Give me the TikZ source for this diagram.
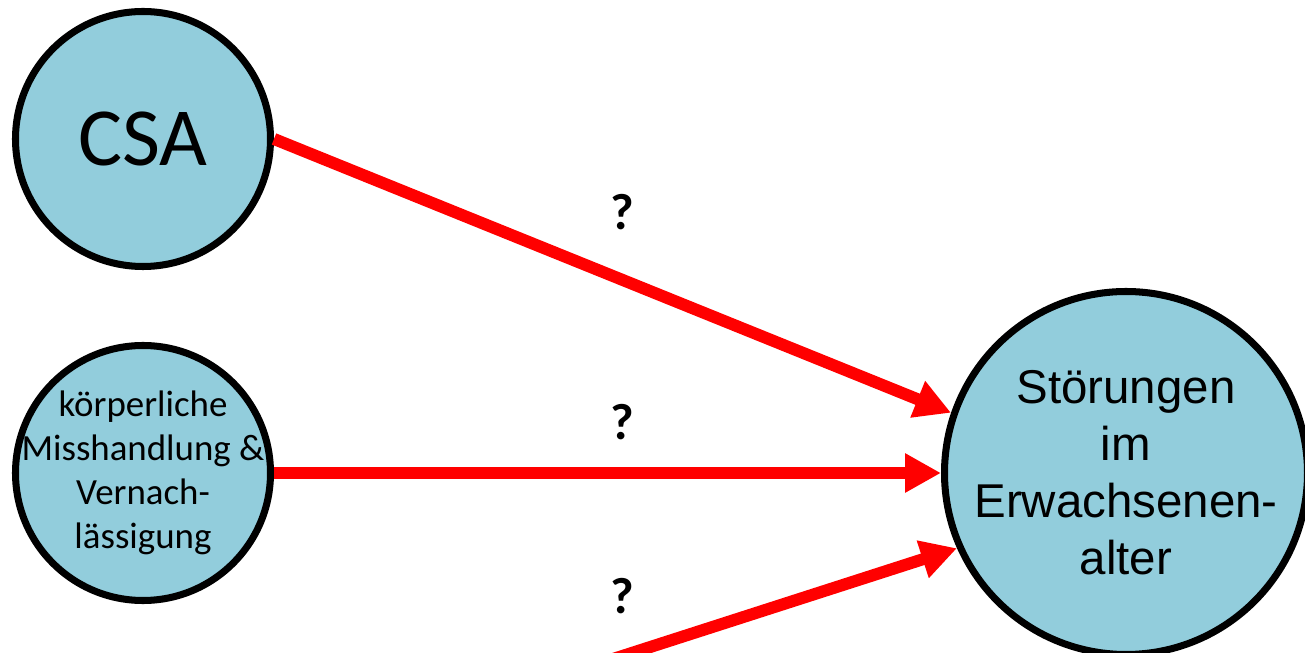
\documentclass[tikz,border=0pt]{standalone}
\usepackage{fontspec}
\setmainfont{Carlito}
\newfontfamily\arialfont{Liberation Sans}
\usepackage{xcolor}
\usetikzlibrary{arrows.meta, positioning, calc}

\definecolor{circfill}{HTML}{92CDDC}

\begin{document}
\begin{tikzpicture}[
    bubble/.style={circle, draw=black, line width=4pt, fill=circfill, inner sep=-0.6cm, align=center},
    arrow/.style={-{Triangle[length=7.2mm, width=7.4mm]}, line width=0.24cm, red},
    qmark/.style={font=\bfseries\fontsize{29}{34}\selectfont}
]
\useasboundingbox (0,0) rectangle (26.1,-13.06);
\clip (0,0) rectangle (26.1,-13.06);

% Left column: the two sources
\node[bubble, minimum size=5.1cm, font=\fontsize{47}{56}\selectfont] (csa) at (2.86,-2.78) {CSA};
\node[bubble, minimum size=5.1cm, font=\fontsize{21}{25}\selectfont] (koerper) at (2.86,-9.46) {k\"orperliche\\Misshandlung \&\\Vernach-\\l\"assigung};

% Third source lies below the visible area
\coordinate (unten) at (5.8,-15.26);

% Right: outcome
\node[bubble, minimum size=7.26cm, font=\arialfont\fontsize{27}{32.4}\selectfont] (stoer) at (22.52,-9.46) {St\"orungen\\im\\Erwachsenen-\\alter};

% Question marks
\node[qmark] (q1) at (12.44,-4.24) {?};
\node[qmark] (q2) at (12.44,-8.44) {?};
\node[qmark] (q3) at (12.44,-11.92) {?};

% === Arrows ===
\draw[arrow] (csa.east) -- (stoer.161);
\draw[arrow] (koerper.east) -- (stoer.west);
\draw[arrow] (unten) -- (stoer.204);
\end{tikzpicture}
\end{document}
